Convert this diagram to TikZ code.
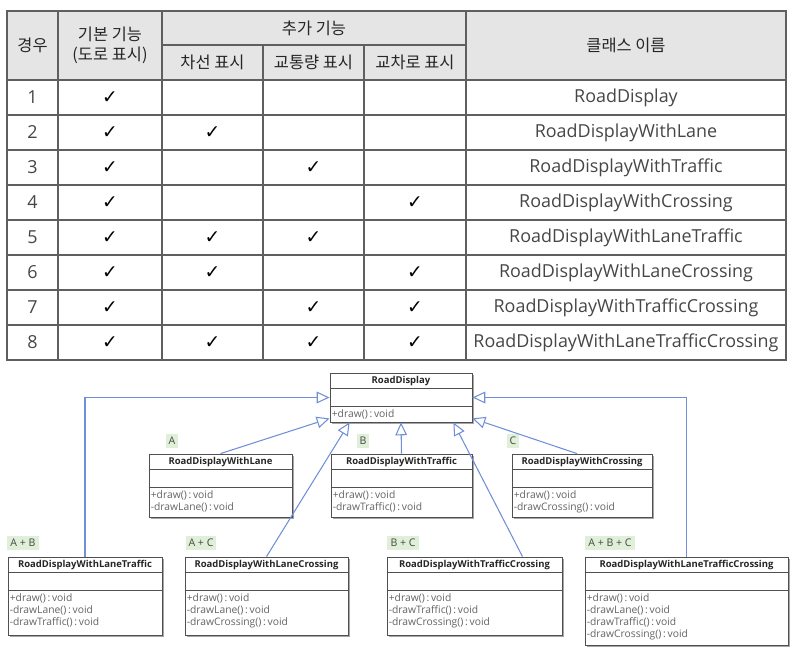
\documentclass[tikz,border=0pt]{standalone}
\usepackage{fontspec}
\setmainfont{Open Sans}
\newfontfamily\krfont{Noto Sans CJK KR}
\newfontfamily\symfont{DejaVu Sans}
\usetikzlibrary{calc, positioning, fit}
\usetikzlibrary{arrows.meta}

\definecolor{gridgray}{RGB}{95,95,95}
\definecolor{headfill}{RGB}{229,229,229}
\definecolor{bodytext}{RGB}{70,70,70}
\definecolor{linkblue}{RGB}{112,143,216}
\definecolor{tagfill}{RGB}{224,240,216}
\definecolor{shadowgray}{RGB}{165,165,165}
\definecolor{framegray}{RGB}{80,80,80}
\definecolor{membertext}{RGB}{100,100,100}

\tikzset{
    grid/.style={draw=gridgray, line width=0.9pt},
    headtext/.style={font=\krfont\fontsize{14}{17}\selectfont, text=black!85, align=center},
    celltext/.style={font=\fontsize{15.3}{18}\selectfont, text=bodytext},
    checkmark/.style={font=\symfont\fontsize{16}{18}\selectfont, text=black},
    classframe/.style={draw=framegray, fill=white, line width=0.7pt, inner sep=0pt},
    classline/.style={draw=framegray, line width=0.6pt},
    classtitle/.style={font=\bfseries\fontsize{8.1}{9.5}\selectfont, text=black!85, inner sep=0pt},
    members/.style={font=\fontsize{8.8}{10.3}\selectfont, text=membertext, align=left, inner sep=0pt},
    tag/.style={fill=tagfill, text=bodytext, font=\fontsize{9}{10}\selectfont, inner sep=2.6pt},
    inherit/.style={draw=linkblue, line width=0.9pt,
        -{Triangle[open, length=11pt, width=10pt, fill=white]}}
}

% class box: name, x1, y1, x2, y2, title, members
\newcommand{\umlclass}[7]{
    \coordinate (#1-nw) at (#2,#3);
    \coordinate (#1-se) at (#4,#5);
    \fill[shadowgray] ($(#1-nw)+(2,2)$) rectangle ($(#1-se)+(2,2)$);
    \node[classframe, fit=(#1-nw)(#1-se)] (#1) {};
    \draw[classline] ($(#1.north west)+(0,16)$) -- ($(#1.north east)+(0,16)$);
    \draw[classline] ($(#1.north west)+(0,34)$) -- ($(#1.north east)+(0,34)$);
    \node[classtitle] (#1-title) at ($(#1.north)+(0,8)$) {#6};
    \node[members, anchor=north west] (#1-ops) at ($(#1.north west)+(2,37)$) {#7};
}

\begin{document}
\begin{tikzpicture}[x=0.03cm, y=-0.03cm]
\useasboundingbox (0,0) rectangle (804,650);

% Table grid
\fill[headfill] (7,11) rectangle (786,80);
\draw[grid] (7,11) rectangle (786,360);
\foreach \y in {80,115,...,325}
    \draw[grid] (7,\y) -- (786,\y);
\draw[grid] (162,45) -- (466,45);
\foreach \x in {58,162,466}
    \draw[grid] (\x,11) -- (\x,360);
\foreach \x in {263,364}
    \draw[grid] (\x,45) -- (\x,360);

% Header
\node[headtext] (h-case) at (32.5,45.5) {경우};
\node[headtext] (h-base) at (110,45.5) {기본 기능\\(도로 표시)};
\node[headtext] (h-extra) at (314,28) {추가 기능};
\node[headtext] (h-lane) at (212.5,62.5) {차선 표시};
\node[headtext] (h-traffic) at (313.5,62.5) {교통량 표시};
\node[headtext] (h-crossing) at (415,62.5) {교차로 표시};
\node[headtext] (h-class) at (626,45.5) {클래스 이름};

% Rows
\foreach \name/\a/\b/\c [count=\i] in {
    RoadDisplay/0/0/0,
    RoadDisplayWithLane/1/0/0,
    RoadDisplayWithTraffic/0/1/0,
    RoadDisplayWithCrossing/0/0/1,
    RoadDisplayWithLaneTraffic/1/1/0,
    RoadDisplayWithLaneCrossing/1/0/1,
    RoadDisplayWithTrafficCrossing/0/1/1,
    RoadDisplayWithLaneTrafficCrossing/1/1/1}
{
    \node[celltext] (case-\i) at (32.5,62.5+35*\i) {\i};
    \node[checkmark] (base-\i) at (110,62.5+35*\i) {✓};
    \ifnum\a=1 \node[checkmark] (lane-\i) at (212.5,62.5+35*\i) {✓}; \fi
    \ifnum\b=1 \node[checkmark] (traffic-\i) at (313.5,62.5+35*\i) {✓}; \fi
    \ifnum\c=1 \node[checkmark] (crossing-\i) at (415,62.5+35*\i) {✓}; \fi
    \node[celltext] (class-\i) at (626,62.5+35*\i) {\name};
}

% Class diagram
\umlclass{root}{330}{373}{472}{422}{RoadDisplay}{+draw()\,:\,void}
\umlclass{lane}{149}{454}{292}{517}{RoadDisplayWithLane}
    {+draw()\,:\,void\\-drawLane()\,:\,void}
\umlclass{traffic}{331}{454}{472}{517}{RoadDisplayWithTraffic}
    {+draw()\,:\,void\\-drawTraffic()\,:\,void}
\umlclass{crossing}{512}{454}{652}{517}{RoadDisplayWithCrossing}
    {+draw()\,:\,void\\-drawCrossing()\,:\,void}
\umlclass{lanetraffic}{8}{557}{162}{635}{RoadDisplayWithLaneTraffic}
    {+draw()\,:\,void\\-drawLane()\,:\,void\\-drawTraffic()\,:\,void}
\umlclass{lanecrossing}{185}{557}{348}{635}{RoadDisplayWithLaneCrossing}
    {+draw()\,:\,void\\-drawLane()\,:\,void\\-drawCrossing()\,:\,void}
\umlclass{trafficcrossing}{387}{557}{562}{635}{RoadDisplayWithTrafficCrossing}
    {+draw()\,:\,void\\-drawTraffic()\,:\,void\\-drawCrossing()\,:\,void}
\umlclass{all}{585}{557}{788}{645}{RoadDisplayWithLaneTrafficCrossing}
    {+draw()\,:\,void\\-drawLane()\,:\,void\\-drawTraffic()\,:\,void\\-drawCrossing()\,:\,void}

% Combination tags
\node[tag] (tag-a) at (172,441) {A};
\node[tag] (tag-b) at (363,441) {B};
\node[tag] (tag-c) at (513,441) {C};
\node[tag] (tag-ab) at (23,543) {A + B};
\node[tag] (tag-ac) at (201,543) {A + C};
\node[tag] (tag-bc) at (403,543) {B + C};
\node[tag] (tag-abc) at (610,543) {A + B + C};

% Inheritance
\draw[inherit] (lane.north) -- ($(root.south west)+(0,-4)$);
\draw[inherit] (traffic.north) -- (root.south);
\draw[inherit] ($(crossing.north)+(-5,0)$) -- ($(root.south east)+(0,-4)$);
\draw[inherit] (lanetraffic.north) |- (root.west);
\draw[inherit] (lanecrossing.north) -- ($(root.south west)+(20,0)$);
\draw[inherit] ($(trafficcrossing.north)+(48,0)$) -- ($(root.south east)+(-19,0)$);
\draw[inherit] (all.north) |- (root.east);
\end{tikzpicture}
\end{document}
